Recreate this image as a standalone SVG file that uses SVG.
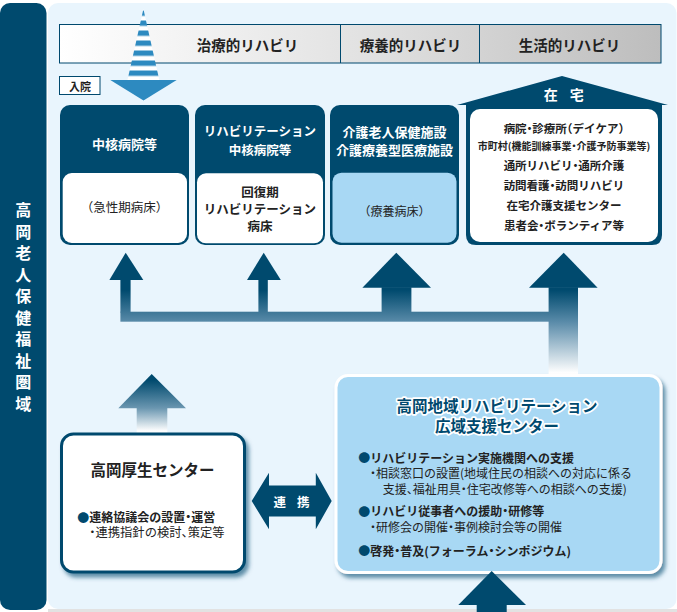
<svg xmlns="http://www.w3.org/2000/svg" width="677" height="612" viewBox="0 0 677 612">
<style>
text{font-family:"Noto Sans CJK JP","Noto Sans CJK SC",sans-serif;font-feature-settings:"halt";dominant-baseline:central}
.w{fill:#fff;font-weight:bold}
.hd{fill:#222;font-weight:bold;font-size:14.5px;text-anchor:middle}
.c{text-anchor:middle}
.b{font-weight:bold}
.dk{fill:#222}
.bl{fill:#00496e}
.ttl{fill:#00496e;stroke:#fff;stroke-width:3.5px;paint-order:stroke;stroke-linejoin:round;font-weight:bold;font-size:15.5px;text-anchor:middle}
</style>
<defs>
<linearGradient id="hg" x1="0" y1="0" x2="1" y2="0">
<stop offset="0" stop-color="#ffffff"/>
<stop offset="0.5" stop-color="#e2e2e2"/>
<stop offset="1" stop-color="#bdbdbd"/>
</linearGradient>
<linearGradient id="ag" gradientUnits="userSpaceOnUse" x1="0" y1="290" x2="0" y2="373">
<stop offset="0" stop-color="#004a6e"/>
<stop offset="0.39" stop-color="#5b8caa"/>
<stop offset="1" stop-color="#ffffff"/>
</linearGradient>
<linearGradient id="ag2" gradientUnits="userSpaceOnUse" x1="0" y1="380" x2="0" y2="431">
<stop offset="0" stop-color="#004a6e"/>
<stop offset="0.55" stop-color="#6a96b0"/>
<stop offset="1" stop-color="#ffffff"/>
</linearGradient>
<pattern id="st" patternUnits="userSpaceOnUse" x="0" y="10.5" width="20" height="10">
<rect x="0" y="0" width="20" height="5.6" fill="#2d8ac0"/>
<rect x="0" y="5.6" width="20" height="4.4" fill="#ffffff"/>
</pattern>
<filter id="sh" x="-10%" y="-10%" width="125%" height="130%">
<feDropShadow dx="3" dy="4" stdDeviation="2" flood-color="#004a6e" flood-opacity="0.6"/>
</filter>
</defs>

<!-- background -->
<rect x="48" y="3" width="628.5" height="606" rx="10" fill="#e9f5fd"/>
<rect x="48" y="609" width="629" height="3" fill="#e2e2e2"/>

<g id="region">
<rect x="0" y="3" width="46.5" height="607" rx="10" fill="#004a6e"/>
<text class="w c" font-size="16">
<tspan x="23.3" y="209">高</tspan><tspan x="23.3" y="230.5">岡</tspan><tspan x="23.3" y="252">老</tspan><tspan x="23.3" y="273.5">人</tspan><tspan x="23.3" y="295">保</tspan><tspan x="23.3" y="316.5">健</tspan><tspan x="23.3" y="338">福</tspan><tspan x="23.3" y="359.5">祉</tspan><tspan x="23.3" y="381">圏</tspan><tspan x="23.3" y="402.5">域</tspan>
</text>
</g>

<g id="header">
<rect x="59.5" y="24.5" width="601.5" height="38.5" fill="url(#hg)" stroke="#00496e" stroke-width="1"/>
<line x1="340.5" y1="24.5" x2="340.5" y2="63" stroke="#00496e" stroke-width="1"/>
<line x1="479.5" y1="24.5" x2="479.5" y2="63" stroke="#00496e" stroke-width="1"/>
<text class="hd" x="247.5" y="44">治療的リハビリ</text>
<text class="hd" x="410.5" y="44">療養的リハビリ</text>
<text class="hd" x="569.5" y="44">生活的リハビリ</text>
</g>

<g id="admission">
<polygon points="143.4,9 159.3,80 127.5,80" fill="url(#st)"/>
<polygon points="110.3,80 176.7,80 143.5,100.5" fill="#2d8ac0"/>
<rect x="59.5" y="76.5" width="40.5" height="18" fill="#fff" stroke="#00496e" stroke-width="1"/>
<text class="b dk c" x="80" y="85.5" font-size="11">入院</text>
</g>

<g id="box1">
<rect x="60" y="105" width="129" height="140" rx="10" fill="#004a6e"/>
<rect x="62.7" y="173" width="124.3" height="70" rx="9" fill="#fff"/>
<text class="w c" x="124.5" y="143.3" font-size="13">中核病院等</text>
<text class="dk c" x="124.5" y="206.7" font-size="12.5">（急性期病床）</text>
</g>

<g id="box2">
<rect x="195" y="105" width="130" height="140" rx="10" fill="#004a6e"/>
<rect x="197" y="173.3" width="126" height="70" rx="9" fill="#fff"/>
<text class="w c" x="260" y="130" font-size="12.5">リハビリテーション</text>
<text class="w c" x="260" y="149.3" font-size="12.5">中核病院等</text>
<text class="dk c b" x="260" y="191.7" font-size="12.5">回復期</text>
<text class="dk c b" x="260" y="208.3" font-size="12.5">リハビリテーション</text>
<text class="dk c b" x="260" y="225" font-size="12.5">病床</text>
</g>

<g id="box3">
<rect x="330" y="105" width="129" height="140" rx="10" fill="#004a6e"/>
<rect x="332.5" y="172.7" width="124" height="70" rx="9" fill="#a8d8f4"/>
<text class="w c" x="394.5" y="131.7" font-size="13">介護老人保健施設</text>
<text class="w c" x="394.5" y="149" font-size="13">介護療養型医療施設</text>
<text class="dk c" x="394.5" y="210.7" font-size="12">（療養病床）</text>
</g>

<g id="home">
<path d="M457,105 L562,76 L668,105 L662,105 L662,235 Q662,245 652,245 L476,245 Q466,245 466,235 L466,105 Z" fill="#004a6e"/>
<rect x="470" y="109" width="188" height="133" rx="10" fill="#fff"/>
<text class="w c" x="566" y="94" font-size="14" letter-spacing="4.5">在 宅</text>
<g class="dk b c" font-size="11.5">
<text x="564" y="128.3">病院・診療所（デイケア）</text>
<text x="564" y="145" font-size="10">市町村(機能訓練事業・介護予防事業等)</text>
<text x="564" y="165">通所リハビリ・通所介護</text>
<text x="564" y="185">訪問看護・訪問リハビリ</text>
<text x="564" y="205">在宅介護支援センター</text>
<text x="564" y="225">患者会・ボランティア等</text>
</g>
</g>

<g id="connectors">
<g fill="url(#ag)">
<polygon points="125.7,252.7 143.3,280 109.4,280"/>
<rect x="120.4" y="279.5" width="10.2" height="33"/>
<polygon points="263.7,252.7 280.8,280 247,280"/>
<rect x="258.4" y="279.5" width="9.4" height="33"/>
<polygon points="396.3,252.7 431,287.7 362.4,287.7"/>
<rect x="381.6" y="287.2" width="29.8" height="25"/>
<polygon points="563.7,252.7 597.6,287.7 529,287.7"/>
<rect x="548.6" y="287.2" width="29.4" height="88"/>
<rect x="120.4" y="311.7" width="457.6" height="10"/>
</g>
<g fill="url(#ag2)">
<polygon points="151.7,374 186,408.3 118.3,408.3"/>
<rect x="136.7" y="408" width="30.6" height="25"/>
</g>
<path d="M251.7,501 L269,472.7 L269,485.5 L315.8,485.5 L315.8,472.7 L331.7,501 L315.8,529.3 L315.8,516.5 L269,516.5 L269,529.3 Z" fill="#004a6e"/>
<text class="w c" x="293.5" y="501.5" font-size="12.5" letter-spacing="4">連 携</text>
</g>

<g id="kosei">
<rect x="61.5" y="434" width="183" height="138" rx="12" fill="#fff" stroke="#004a6e" stroke-width="3" filter="url(#sh)"/>
<text class="dk b c" x="152.5" y="469" font-size="15.5">高岡厚生センター</text>
<text class="dk b" x="77.3" y="516.7" font-size="12"><tspan class="bl">●</tspan>連絡協議会の設置・運営</text>
<text class="dk" x="89.3" y="531.7" font-size="12.3">・連携指針の検討、策定等</text>
</g>

<g id="center">
<rect x="336" y="375.5" width="325" height="197" rx="12" fill="#a8d8f4" stroke="#fff" stroke-width="3" filter="url(#sh)"/>
<text class="ttl" x="497" y="405">高岡地域リハビリテーション</text>
<text class="ttl" x="497" y="425">広域支援センター</text>
<g font-size="12">
<text class="dk b" x="358.3" y="457.3"><tspan class="bl">●</tspan>リハビリテーション実施機関への支援</text>
<text class="dk" x="370" y="472.7">・相談窓口の設置(地域住民の相談への対応に係る</text>
<text class="dk" x="382.7" y="488.3">支援、福祉用具・住宅改修等への相談への支援)</text>
<text class="dk b" x="358.3" y="510.7"><tspan class="bl">●</tspan>リハビリ従事者への援助・研修等</text>
<text class="dk" x="370" y="526.7">・研修会の開催・事例検討会等の開催</text>
<text class="dk b" x="358.3" y="550"><tspan class="bl">●</tspan>啓発・普及(フォーラム・シンポジウム)</text>
</g>
</g>

<g id="connector-bottom">
<polygon points="491.7,571 526,605 458.3,605" fill="#004a6e"/>
<rect x="476.7" y="604.5" width="30" height="7.5" fill="#004a6e"/>
</g>
</svg>
